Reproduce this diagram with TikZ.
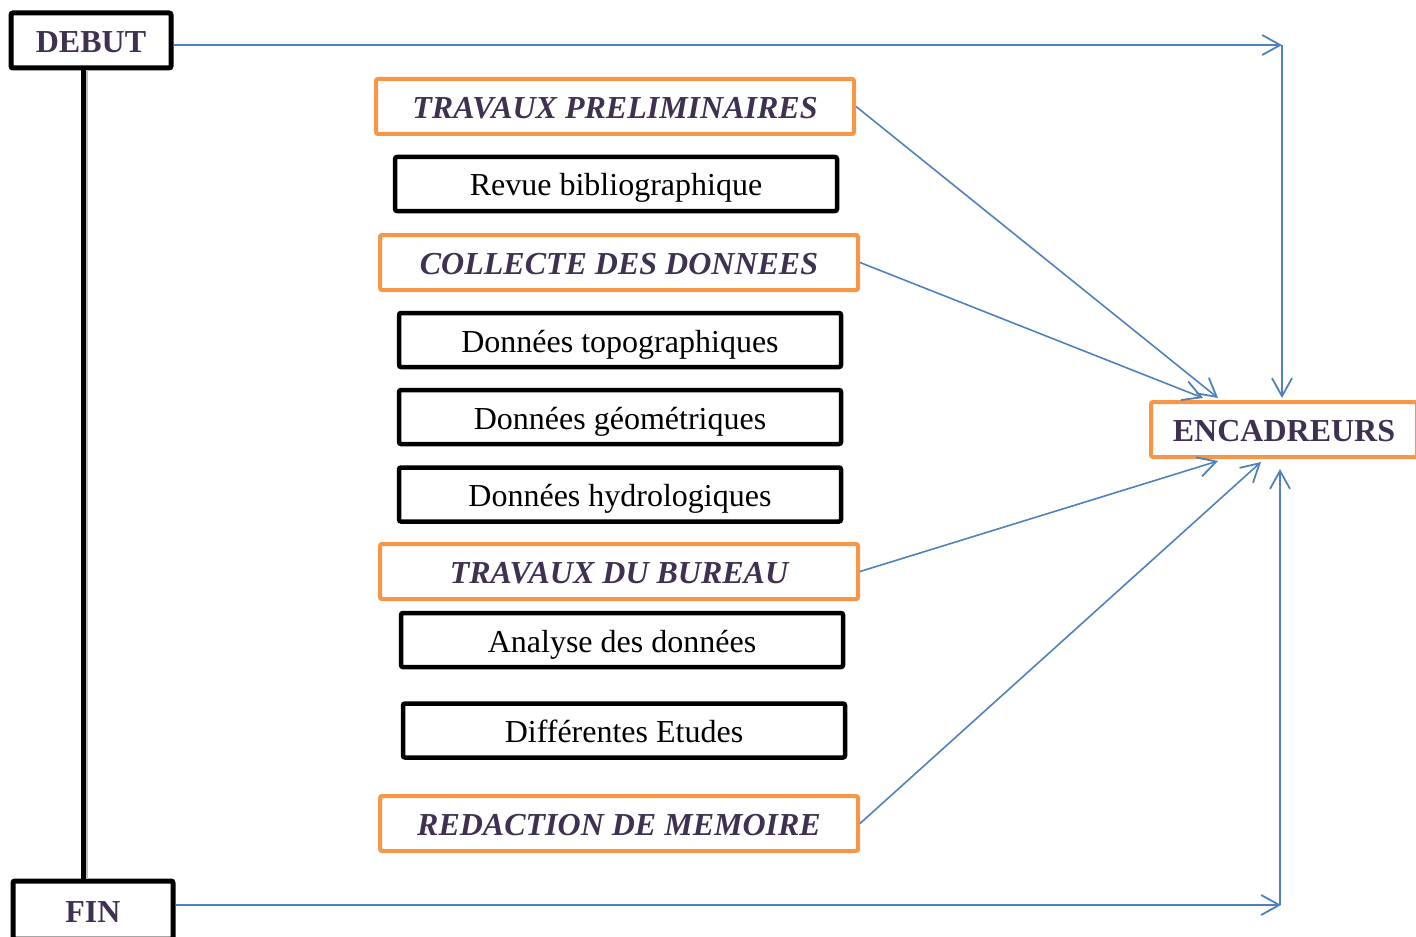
\documentclass[tikz,border=0pt]{standalone}
\usepackage{fontspec}
\setmainfont{Liberation Serif}
\usepackage{tikz}
\usetikzlibrary{positioning,arrows.meta}
\definecolor{titretxt}{HTML}{3F3151}
\definecolor{orangeb}{HTML}{F79646}
\definecolor{bleuf}{HTML}{4F81BD}

\begin{document}
\begin{tikzpicture}[x=0.5pt,y=-0.5pt,
  borne/.style={draw=black, line width=2.5pt, rounded corners=1pt, inner sep=0pt,
    text height=13pt, text depth=1pt,
    minimum width=80pt, minimum height=27.5pt, text=titretxt,
    font=\fontsize{16}{19}\selectfont\bfseries},
  phase/.style={draw=orangeb, line width=2pt, rounded corners=1pt, inner sep=0pt,
    text height=13pt, text depth=1pt,
    minimum width=239pt, minimum height=27.5pt, text=titretxt,
    font=\fontsize{16}{19}\selectfont\bfseries\itshape},
  tache/.style={draw=black, line width=2.25pt, rounded corners=1pt, inner sep=0pt,
    text height=13pt, text depth=1pt,
    minimum width=221pt, minimum height=27pt,
    font=\fontsize{16}{19}\selectfont},
  fleche/.style={draw=bleuf, line width=0.8pt,
    -{Straight Barb[length=9pt,width=10pt,line width=0.9pt]}}]
\useasboundingbox (0,0) rectangle (1416,936);
% debut et fin
\node[borne] (debut) at (91,40.5) {DEBUT};
\node[borne, minimum height=29pt] (fin) at (93,910) {FIN};
\draw[black!25, line width=1.5pt] ([xshift=-2.5pt]debut.south) -- ([xshift=-2.5pt]debut.south |- fin.north);
\draw[black, line width=2.5pt] ([xshift=-4pt]debut.south) -- ([xshift=-4pt]debut.south |- fin.north);
% etapes
\node[phase] (prelim) at (615,106.5) {TRAVAUX PRELIMINAIRES};
\node[tache] (revue) at (616,184) {Revue bibliographique};
\node[phase] (collecte) at (619,262.5) {COLLECTE DES DONNEES};
\node[tache] (topo) at (620,340) {Données topographiques};
\node[tache] (geom) at (620,417) {Données géométriques};
\node[tache] (hydro) at (620,494.5) {Données hydrologiques};
\node[phase] (bureau) at (619,571.5) {TRAVAUX DU BUREAU};
\node[tache] (analyse) at (622,640) {Analyse des données};
\node[tache] (etudes) at (624,730.5) {Différentes Etudes};
\node[phase] (redaction) at (619,823.5) {REDACTION DE MEMOIRE};
% encadreurs
\node[phase, font=\fontsize{16}{19}\selectfont\bfseries, minimum width=133pt] (enc) at (1284,429.5) {ENCADREURS};
\coordinate (hautcoin) at (1282,45);
\coordinate (bascoin) at (1281,905);
% fleches
\draw[fleche] (debut.east |- hautcoin) -- (hautcoin);
\draw[fleche, shorten >=1pt] (hautcoin) -- (enc.north -| hautcoin);
\draw[fleche] (fin.east |- bascoin) -- (bascoin);
\draw[fleche, shorten >=5pt] ([xshift=-0.5pt]bascoin) -- ([xshift=-0.5pt]enc.south -| bascoin);
\draw[fleche] (prelim.east) -- ([xshift=34.5pt,yshift=1pt]enc.north west);
\draw[fleche] (collecte.east) -- ([xshift=27pt,yshift=1pt]enc.north west);
\draw[fleche] (bureau.east) -- ([xshift=34.5pt,yshift=-1pt]enc.south west);
\draw[fleche] (redaction.east) -- ([xshift=56pt,yshift=-1.5pt]enc.south west);
\end{tikzpicture}
\end{document}
